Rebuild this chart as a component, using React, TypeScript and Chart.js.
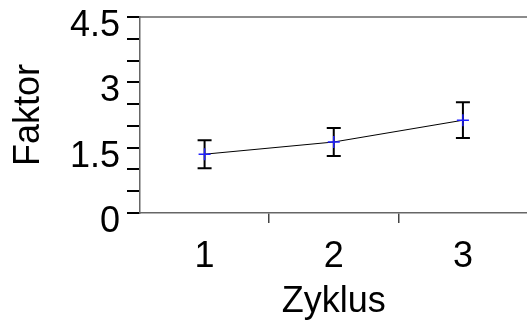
import React, { useEffect, useRef } from "react";
import { Chart, registerables } from "chart.js";

Chart.register(...registerables);

const categories = ["1", "2", "3"];
const values = [1.35, 1.63, 2.13];
const errors = [0.32, 0.32, 0.41];
const yMin = 0;
const yMax = 4.5;
const yStep = 0.5;
const yLabelStep = 1.5;

const FONT = "'Liberation Sans', Arial, sans-serif";

const errorBarPlugin = {
  id: "errorBars",
  beforeDatasetsDraw(chart: any) {
    const ctx = chart.ctx;
    const meta = chart.getDatasetMeta(0);
    const ys = chart.scales.y;
    ctx.save();
    ctx.strokeStyle = "#000";
    ctx.lineWidth = 2;
    meta.data.forEach((pt: any, i: number) => {
      const x = pt.x;
      const top = ys.getPixelForValue(values[i] + errors[i]);
      const bot = ys.getPixelForValue(values[i] - errors[i]);
      ctx.beginPath();
      ctx.moveTo(x, top);
      ctx.lineTo(x, bot);
      ctx.moveTo(x - 7, top);
      ctx.lineTo(x + 7, top);
      ctx.moveTo(x - 7, bot);
      ctx.lineTo(x + 7, bot);
      ctx.stroke();
    });
    ctx.restore();
  },
};

const topBorderPlugin = {
  id: "topBorder",
  afterDraw(chart: any) {
    const { ctx, chartArea } = chart;
    ctx.save();
    ctx.strokeStyle = "#666";
    ctx.lineWidth = 1.5;
    ctx.beginPath();
    ctx.moveTo(chartArea.left, chartArea.top);
    ctx.lineTo(chartArea.right, chartArea.top);
    ctx.stroke();
    ctx.restore();
  },
};

export default function App() {
  const ref = useRef<HTMLCanvasElement | null>(null);
  useEffect(() => {
    if (!ref.current) return;
    const chart = new Chart(ref.current, {
      type: "line",
      data: {
        labels: categories,
        datasets: [
          {
            data: values,
            borderColor: "#000",
            borderWidth: 1,
            tension: 0,
            pointStyle: "cross",
            pointRadius: 6,
            pointBorderColor: "#2020ff",
            pointBorderWidth: 1.5,
            pointBackgroundColor: "#2020ff",
          },
        ],
      },
      options: {
        animation: false,
        responsive: false,
        devicePixelRatio: 1,
        layout: { padding: { top: 17, right: 0, bottom: 0, left: 0 } },
        plugins: {
          legend: { display: false },
          tooltip: { enabled: false },
        },
        scales: {
          x: {
            type: "category",
            offset: true,
            grid: {
              offset: true,
              drawOnChartArea: false,
              drawTicks: true,
              tickLength: 10,
              lineWidth: 1.5,
              color: (c: any) => (c.index === 0 ? "rgba(0,0,0,0)" : "#444"),
            },
            border: { display: true, color: "#666", width: 1.5 },
            ticks: {
              color: "#000",
              padding: 12,
              font: { family: FONT, size: 36 },
            },
            title: {
              display: true,
              text: "Zyklus",
              color: "#000",
              font: { family: FONT, size: 36 },
              padding: { top: 0, bottom: -2 },
            },
            afterFit: (s: any) => {
              s.height = 109;
              s.paddingLeft = 0;
              s.paddingRight = 0;
            },
          },
          y: {
            min: yMin,
            max: yMax,
            grid: {
              drawOnChartArea: false,
              drawTicks: true,
              tickLength: 13,
              lineWidth: 2,
              color: "#000",
            },
            border: { display: true, color: "#666", width: 1.5 },
            ticks: {
              stepSize: yStep,
              autoSkip: false,
              color: "#000",
              padding: 7,
              labelOffset: 9,
              font: { family: FONT, size: 36 },
              callback: (v: any) => {
                const q = Number(v) / yLabelStep;
                return Math.abs(q - Math.round(q)) < 1e-6 ? String(Number(v)) : "";
              },
            },
            title: {
              display: true,
              text: "Faktor",
              color: "#000",
              font: { family: FONT, size: 36 },
              padding: { top: 7, bottom: 0 },
            },
            afterFit: (s: any) => {
              s.width = 140;
              s.paddingTop = 0;
              s.paddingBottom = 0;
            },
          },
        },
      },
      plugins: [errorBarPlugin, topBorderPlugin],
    });
    return () => chart.destroy();
  }, []);

  return (
    <div
      style={{
        position: "absolute",
        left: 0,
        top: 0,
        width: 527,
        height: 322,
        overflow: "hidden",
        background: "#fff",
      }}
    >
      <canvas ref={ref} width={535} height={322} style={{ display: "block" }} />
    </div>
  );
}
